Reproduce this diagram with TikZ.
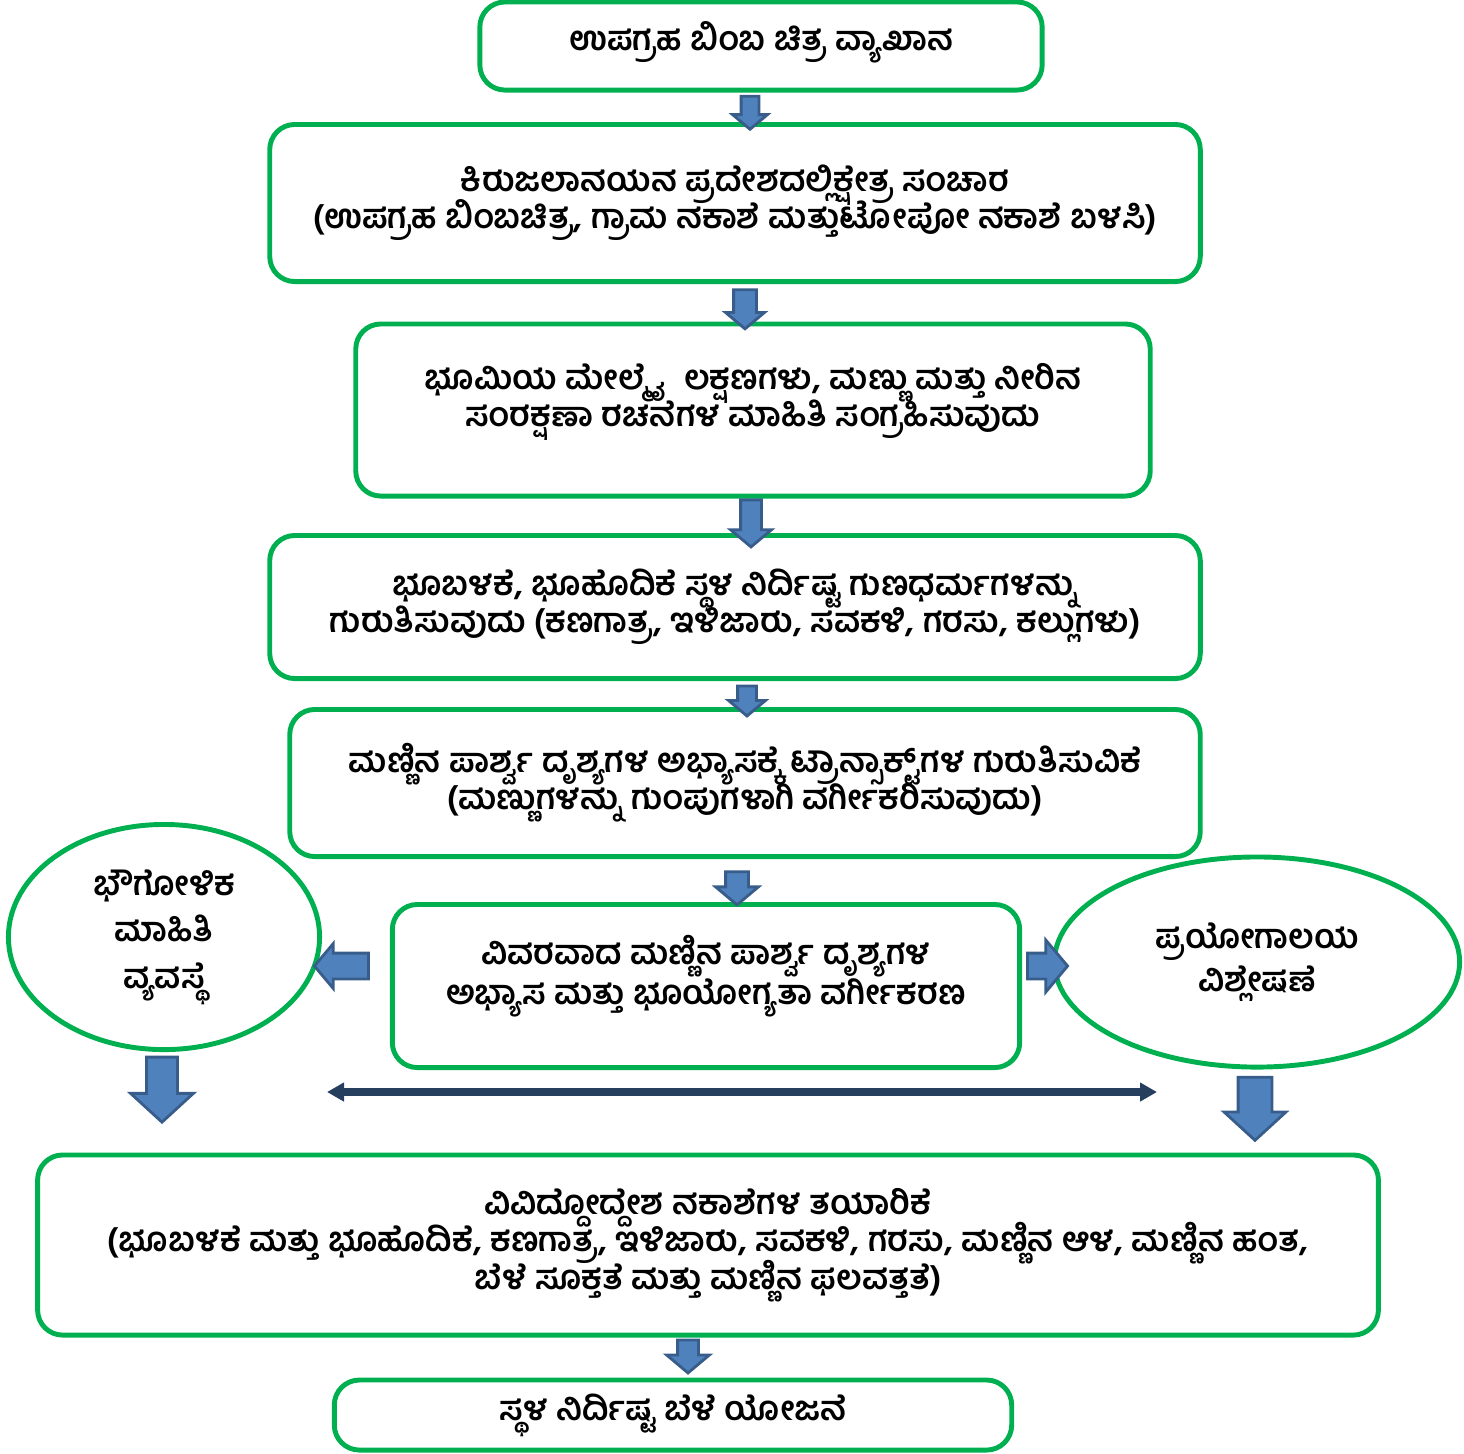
\documentclass[tikz,border=0pt]{standalone}
\usepackage{fontspec}
\newfontfamily\kn[Script=Kannada]{Hind Mysuru}
\usetikzlibrary{shapes.arrows,shapes.geometric,arrows.meta}
\definecolor{boxgreen}{HTML}{00B050}
\definecolor{arrowfill}{HTML}{4F81BD}
\definecolor{arrowline}{HTML}{385D8A}
\definecolor{navy}{HTML}{263F5E}
\setlength{\lineskiplimit}{-20pt}
\begin{document}
\begin{tikzpicture}[
   x=0.01cm,y=-0.01cm,
   font=\kn\bfseries\fontsize{9.6}{10.6}\selectfont,
   box/.style={draw=boxgreen,line width=1.4pt,rounded corners=0.25cm,align=center,inner sep=0pt},
   oval/.style={draw=boxgreen,line width=1.4pt,ellipse,align=center,inner sep=0pt},
   blk/.style={single arrow,draw=arrowline,fill=arrowfill,line width=0.8pt,inner sep=0pt,single arrow tip angle=100},
   dn/.style={blk,rotate=-90},
   lt/.style={blk,rotate=180},
   rt/.style={blk},
   both/.style={{Triangle[length=0.17cm,width=0.18cm]}-{Triangle[length=0.17cm,width=0.18cm]},draw=navy,line width=2.3pt}]
\useasboundingbox (0,0) rectangle (1464,1453);
\node[box,minimum width=5.62cm,minimum height=0.88cm,text depth=0.2cm] (sat) at (761,46) {ಉಪಗ್ರಹ ಬಿಂಬ ಚಿತ್ರ ವ್ಯಾಖಾನ};
\node[box,minimum width=9.3cm,minimum height=1.57cm] (tour) at (735,203) {ಕಿರುಜಲಾನಯನ ಪ್ರದೇಶದಲ್ಲಿಕ್ಷೇತ್ರ ಸಂಚಾರ\\(ಉಪಗ್ರಹ ಬಿಂಬಚಿತ್ರ, ಗ್ರಾಮ ನಕಾಶೆ ಮತ್ತುಟೋಪೋ ನಕಾಶೆ ಬಳಸಿ)};
\node[box,minimum width=7.94cm,minimum height=1.72cm,text depth=0.3cm] (info) at (753,410) {ಭೂಮಿಯ ಮೇಲ್ಮೈ\ \ ಲಕ್ಷಣಗಳು, ಮಣ್ಣು ಮತ್ತು ನೀರಿನ\\ಸಂರಕ್ಷಣಾ ರಚನೆಗಳ ಮಾಹಿತಿ ಸಂಗ್ರಹಿಸುವುದು};
\node[box,minimum width=9.3cm,minimum height=1.43cm] (props) at (735,607) {ಭೂಬಳಕೆ, ಭೂಹೊದಿಕೆ ಸ್ಥಳ ನಿರ್ದಿಷ್ಟ ಗುಣಧರ್ಮಗಳನ್ನು\\ಗುರುತಿಸುವುದು (ಕಣಗಾತ್ರ, ಇಳಿಜಾರು, ಸವಕಳಿ, ಗರಸು, ಕಲ್ಲುಗಳು)};
\node[box,minimum width=9.1cm,minimum height=1.47cm] (soil) at (745,783) {ಮಣ್ಣಿನ ಪಾರ್ಶ್ವ ದೃಶ್ಯಗಳ ಅಭ್ಯಾಸಕ್ಕೆ ಟ್ರಾನ್ಸಾಕ್ಟ್‌ಗಳ ಗುರುತಿಸುವಿಕೆ\\(ಮಣ್ಣುಗಳನ್ನು ಗುಂಪುಗಳಾಗಿ ವರ್ಗೀಕರಿಸುವುದು)};
\node[box,minimum width=6.27cm,minimum height=1.63cm,text depth=0.32cm] (detail) at (706,986) {ವಿವರವಾದ ಮಣ್ಣಿನ ಪಾರ್ಶ್ವ ದೃಶ್ಯಗಳ\\[0.03cm]ಅಭ್ಯಾಸ ಮತ್ತು ಭೂಯೋಗ್ಯತಾ ವರ್ಗೀಕರಣ};
\node[oval,minimum width=3.11cm,minimum height=2.25cm] (geo) at (164,937) {ಭೌಗೋಳಿಕ\\[0.09cm]ಮಾಹಿತಿ\\[0.09cm]ವ್ಯವಸ್ಥೆ};
\node[oval,minimum width=4.05cm,minimum height=2.1cm] (lab) at (1257,962) {ಪ್ರಯೋಗಾಲಯ\\[0.06cm]ವಿಶ್ಲೇಷಣೆ};
\node[box,minimum width=13.4cm,minimum height=1.8cm] (maps) at (708,1245) {ವಿವಿದ್ದೋದ್ದೇಶ ನಕಾಶೆಗಳ ತಯಾರಿಕೆ\\(ಭೂಬಳಕೆ ಮತ್ತು ಭೂಹೊದಿಕೆ, ಕಣಗಾತ್ರ, ಇಳಿಜಾರು, ಸವಕಳಿ, ಗರಸು, ಮಣ್ಣಿನ ಆಳ, ಮಣ್ಣಿನ ಹಂತ,\\ಬೆಳೆ ಸೂಕ್ತತೆ ಮತ್ತು ಮಣ್ಣಿನ ಫಲವತ್ತತೆ)};
\node[box,minimum width=6.77cm,minimum height=0.7cm] (plan) at (673,1415) {ಸ್ಥಳ ನಿರ್ದಿಷ್ಟ ಬೆಳೆ ಯೋಜನೆ};
\path (sat.south) ++(-11,16.5) node[dn,minimum height=0.33cm,inner ysep=0.075cm,single arrow head extend=0.085cm] {};
\path (tour.south) ++(10,20.5) node[dn,minimum height=0.39cm,inner ysep=0.1cm,single arrow head extend=0.08cm] {};
\path (info.south) ++(-2,20.5) node[dn,minimum height=0.47cm,inner ysep=0.09cm,single arrow head extend=0.1cm] {};
\path (props.south) ++(12,16) node[dn,minimum height=0.3cm,inner ysep=0.08cm,single arrow head extend=0.09cm] {};
\path (soil.south) ++(-8,24.5) node[dn,minimum height=0.33cm,inner ysep=0.1cm,single arrow head extend=0.1cm] {};
\path (detail.west) ++(-43,-20) node[lt,minimum height=0.54cm,inner ysep=0.115cm,single arrow head extend=0.095cm] {};
\path (detail.east) ++(20,-20) node[rt,minimum height=0.4cm,inner ysep=0.115cm,single arrow head extend=0.13cm] {};
\path (geo.south) ++(-2,30.5) node[dn,minimum height=0.65cm,inner ysep=0.14cm,single arrow head extend=0.16cm,single arrow tip angle=95] {};
\path (lab.south) ++(-2,31.5) node[dn,minimum height=0.63cm,inner ysep=0.155cm,single arrow head extend=0.14cm,single arrow tip angle=95] {};
\path (maps.south) ++(-20,14.5) node[dn,minimum height=0.33cm,inner ysep=0.09cm,single arrow head extend=0.11cm] {};
\coordinate (dl) at (327,1092);
\coordinate (dr) at (1157,1092);
\draw[both] (dl) -- (dr);
\end{tikzpicture}
\end{document}
